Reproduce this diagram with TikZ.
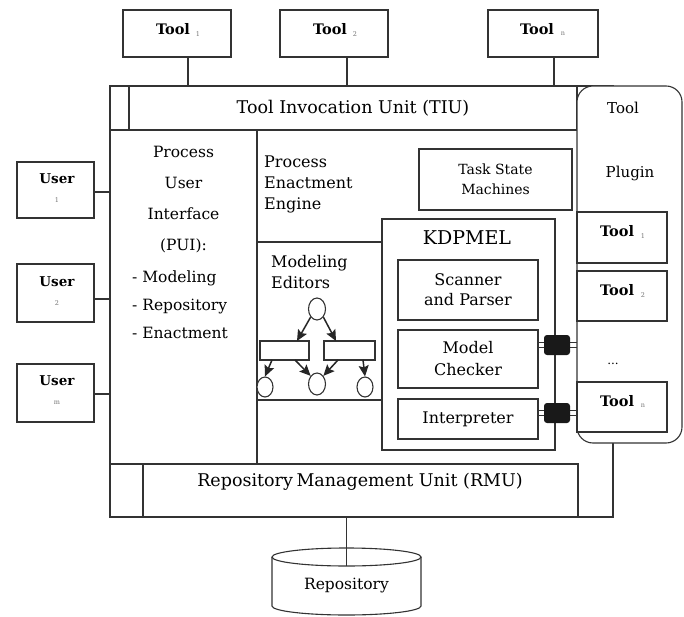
\documentclass[tikz,border=0pt]{standalone}
\usepackage{fontspec}
\setmainfont{DejaVu Serif}
\usetikzlibrary{arrows.meta,shapes.geometric}
\begin{document}
\begin{tikzpicture}[x=1pt,y=-1pt,
  ln/.style={draw=black!80,line width=1.1pt},
  bx/.style={ln,fill=white,inner sep=0pt,outer sep=0pt},
  lbl/.style={inner sep=0pt,font=\fontsize{16}{20}\selectfont},
  tl/.style={inner sep=0pt,font=\bfseries\fontsize{14.5}{16}\selectfont},
  subl/.style={inner sep=0pt,font=\fontsize{6.5}{7}\selectfont,text=black!55},
  el/.style={ellipse,ln,fill=white,inner sep=0pt,minimum width=17,minimum height=22},
  arr/.style={draw=black!85,line width=1.5pt,-{Stealth[length=11pt,width=10pt,inset=2pt]}},
  blob/.style={fill=black!90,rounded corners=3pt,minimum width=26,minimum height=20,inner sep=0pt}
]
\useasboundingbox (0,0) rectangle (684,617);
\fill[white] (0,0) rectangle (684,617);

% top tools
\node[bx,minimum width=108,minimum height=47] (t1) at (177,33.5) {};
\node[bx,minimum width=108,minimum height=47] (t2) at (334,33.5) {};
\node[bx,minimum width=110,minimum height=47] (tn) at (543,33.5) {};
\node[tl] (t1l) at (173,29) {Tool};
\node[subl] (t1s) at (198,34) {1};
\node[tl] (t2l) at (330,29) {Tool};
\node[subl] (t2s) at (355,34) {2};
\node[tl] (tnl) at (537,29) {Tool};
\node[subl] (tns) at (563,34) {n};

% outer frame
\node[bx,minimum width=503,minimum height=431] (frame) at (361.5,301.5) {};

\draw[ln] ([xshift=11pt]t1.south) -- ([xshift=11pt]t1.south |- frame.north);
\draw[ln] ([xshift=13pt]t2.south) -- ([xshift=13pt]t2.south |- frame.north);
\draw[ln] ([xshift=11pt]tn.south) -- ([xshift=11pt]tn.south |- frame.north);

% TIU
\node[bx,minimum width=448,minimum height=44,font=\fontsize{17.5}{20}\selectfont] (tiu) at (353,108) {Tool Invocation Unit (TIU)};

% PUI
\node[bx,minimum width=147,minimum height=334] (pui) at (183.5,297) {};
\node[lbl,align=center,font=\fontsize{15.5}{31}\selectfont] (puih) at (183.5,199.5) {Process\\User\\Interface\\(PUI):};
\node[lbl,align=left,anchor=west,font=\fontsize{15.5}{28}\selectfont] (puil) at (132,305) {- Modeling\\- Repository\\- Enactment};

% RMU
\node[bx,minimum width=435,minimum height=53] (rmu) at (360.5,490.5) {};
\node[lbl,font=\fontsize{17.5}{20}\selectfont] (rmul) at (360,482) {Repository\hspace{-2pt} Management Unit (RMU)};

% users
\node[bx,minimum width=77,minimum height=56] (u1) at (55.5,190) {};
\node[bx,minimum width=77,minimum height=58] (u2) at (55.5,293) {};
\node[bx,minimum width=77,minimum height=58] (un) at (55.5,393) {};
\node[tl,font=\bfseries\fontsize{13.5}{16}\selectfont] (u1l) at (57,179) {User};
\node[subl] (u1s) at (57,200) {1};
\node[tl,font=\bfseries\fontsize{13.5}{16}\selectfont] (u2l) at (57,282) {User};
\node[subl] (u2s) at (57,303) {2};
\node[tl,font=\bfseries\fontsize{13.5}{16}\selectfont] (unl) at (57,381) {User};
\node[subl] (uns) at (57,403) {m};
\draw[ln] (u1.east |- 0,192) -- (frame.west |- 0,192);
\draw[ln] (u2.east |- 0,299) -- (frame.west |- 0,299);
\draw[ln] (un.east |- 0,394) -- (frame.west |- 0,394);

% Process enactment engine
\node[lbl,align=left,anchor=west,font=\fontsize{16}{21}\selectfont] (pee) at (264,184) {Process\\Enactment\\Engine};
\node[bx,minimum width=153,minimum height=61,align=center,font=\fontsize{14}{20}\selectfont] (tsm) at (495.5,179.5) {Task State\\Machines};

% KDPMEL
\node[bx,minimum width=173,minimum height=231] (kdp) at (468.5,334.5) {};
\node[lbl,font=\fontsize{19}{22}\selectfont] (kdpl) at (467,238) {KDPMEL};
\node[bx,minimum width=140,minimum height=60,align=center,font=\fontsize{16}{20}\selectfont] (sp) at (468,290) {Scanner\\and Parser};
\node[bx,minimum width=140,minimum height=58,align=center,font=\fontsize{16}{22}\selectfont] (mc) at (468,359) {Model\\Checker};
\node[bx,minimum width=140,minimum height=40,font=\fontsize{16}{20}\selectfont] (ip) at (468,419) {Interpreter};

% modeling editors
\draw[ln] (pui.east |- 0,242) -- (kdp.west |- 0,242);
\draw[ln] (pui.east |- 0,400) -- (kdp.west |- 0,400);
\node[lbl,align=left,anchor=west,font=\fontsize{16}{21}\selectfont] (mel) at (271,272.5) {Modeling\\Editors};
\node[el] (c0) at (317,309) {};
\node[bx,minimum width=49,minimum height=19] (r1) at (284.5,350.5) {};
\node[bx,minimum width=51,minimum height=19] (r2) at (349.5,350.5) {};
\node[el,minimum width=16,minimum height=20] (c1) at (265,387) {};
\node[el] (c2) at (317,384) {};
\node[el,minimum width=16,minimum height=20] (c3) at (365,387) {};
\draw[arr] (c0.south west) -- ([xshift=-12pt]r1.north east);
\draw[arr] (c0.south east) -- ([xshift=12pt]r2.north west);
\draw[arr] ([xshift=12pt]r1.south west) -- (c1.north);
\draw[arr] ([xshift=-14pt]r1.south east) -- (c2.north west);
\draw[arr] ([xshift=14pt]r2.south west) -- (c2.north east);
\draw[arr] ([xshift=-12pt]r2.south east) -- (c3.north);

% plugin
\node[bx,rounded corners=16pt,minimum width=105,minimum height=357] (plug) at (629.5,264.5) {};
\node[lbl,font=\fontsize{15}{18}\selectfont] (plt) at (623,108) {Tool};
\node[lbl,font=\fontsize{15}{18}\selectfont] (plp) at (630,173) {Plugin};
\node[bx,minimum width=90,minimum height=51] (p1) at (622,237.5) {};
\node[bx,minimum width=90,minimum height=50] (p2) at (622,296) {};
\node[bx,minimum width=90,minimum height=50] (pn) at (622,407) {};
\node[tl] (p1l) at (617,231) {Tool};
\node[subl] (p1s) at (643,236) {1};
\node[tl] (p2l) at (617,290) {Tool};
\node[subl] (p2s) at (643,295) {2};
\node[tl] (pnl) at (617,401) {Tool};
\node[subl] (pns) at (643,406) {n};
\node[lbl,font=\fontsize{12}{14}\selectfont] (dots) at (613,364) {...};

% connectors KDPMEL - plugin
\draw[ln,line width=0.9pt] (mc.east |- 0,342.8) -- (plug.west |- 0,342.8);
\draw[ln,line width=0.9pt] (mc.east |- 0,347.6) -- (plug.west |- 0,347.6);
\draw[ln,line width=0.9pt] (ip.east |- 0,410.8) -- (plug.west |- 0,410.8);
\draw[ln,line width=0.9pt] (ip.east |- 0,415.6) -- (plug.west |- 0,415.6);
\node[blob] (b1) at (557,345) {};
\node[blob] (b2) at (557,413) {};

% repository
\draw[ln,fill=white] (272,557) -- (272,606) arc[start angle=180,end angle=0,x radius=74.5,y radius=9] -- (421,557);
\draw[ln] (346.5,557) ellipse [x radius=74.5, y radius=9];
\coordinate (repotop) at (346.5,566);
\node[lbl,font=\fontsize{15.5}{18}\selectfont] (repo) at (346.5,586) {Repository};
\draw[ln] (rmu.south -| repotop) -- (repotop);
\end{tikzpicture}
\end{document}
